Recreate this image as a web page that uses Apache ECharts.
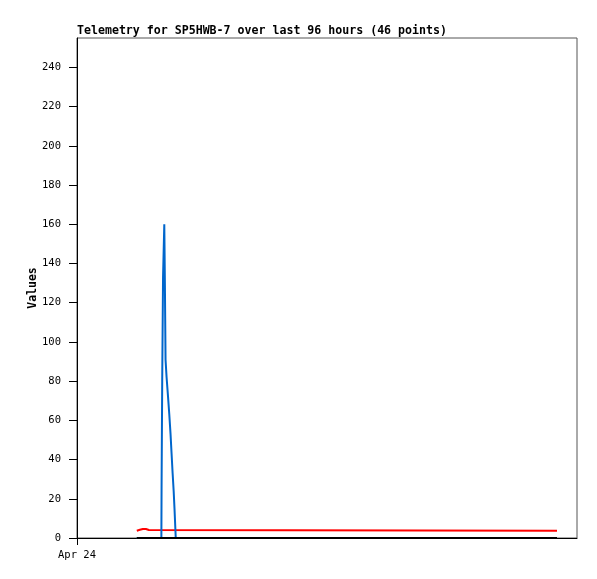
<!DOCTYPE html>
<html><head><meta charset="utf-8">
<script src="https://cdn.jsdelivr.net/npm/echarts@6/dist/echarts.min.js"></script>
<style>html,body{margin:0;padding:0;background:#fff}#c{width:597px;height:579px}</style>
</head><body><div id="c"></div>
<script>
// hours since Apr 24 00:00
const blueHours = [2.87, 4.05, 4.06, 4.09, 4.13, 4.19, 4.22, 4.25, 4.30, 4.37, 4.43, 4.49, 4.54, 4.59, 4.64, 4.68, 4.72, 4.74, 23.04];
const blueValues = [0, 0, 27, 80, 133, 160, 128, 91, 82, 72, 63, 53, 43, 33, 24, 15, 5, 0, 0];
const redHours = [2.87, 3.02, 3.16, 3.31, 3.45, 3.54, 23.04];
const redValues = [3.7, 4.2, 4.6, 4.6, 4.1, 3.7, 3.7];
const blackHours = [2.87, 23.04];
const blackValues = [0, 0];
const yTicks = [0, 20, 40, 60, 80, 100, 120, 140, 160, 180, 200, 220, 240];
const xTickLabels = {0: 'Apr 24'};
const titleText = 'Telemetry for SP5HWB-7 over last 96 hours (46 points)';

const zip = (a, b) => a.map((v, i) => [v, b[i]]);
const font = '"DejaVu Sans Mono", "Liberation Mono", monospace';
const chart = echarts.init(document.getElementById('c'), null, {renderer: 'canvas'});
chart.setOption({
  animation: false,
  backgroundColor: '#fff',
  title: {text: titleText, left: 72, top: 25, textStyle: {fontFamily: font, fontSize: 11.6, fontWeight: 'bold', color: '#000'}, padding: [0,5]},
  grid: {left: 77, top: 38, right: 20, bottom: 41, show: true, borderColor: '#555', borderWidth: 1, containLabel: false},
  xAxis: {
    type: 'value', min: 0, max: 24, interval: 24,
    axisLine: {lineStyle: {color: '#000', width: 1}},
    axisTick: {show: true, length: 7, lineStyle: {color: '#000'}, customValues: [0]},
    axisLabel: {customValues: [0], formatter: v => xTickLabels[v] || '', fontFamily: font, fontSize: 10.5, color: '#000', margin: 12},
    splitLine: {show: false}
  },
  yAxis: {
    type: 'value', min: 0, max: 255,
    name: 'Values', nameLocation: 'middle', nameGap: 38, nameMoveOverlap: false,
    nameTextStyle: {fontFamily: font, fontSize: 11.5, fontWeight: 'bold', color: '#000'},
    axisLine: {show: true, lineStyle: {color: '#000', width: 1}},
    axisTick: {show: true, length: 8, lineStyle: {color: '#000'}, customValues: yTicks},
    axisLabel: {customValues: yTicks, fontFamily: font, fontSize: 10.5, color: '#000', margin: 16},
    splitLine: {show: false}
  },
  series: [
    {type: 'line', data: zip(redHours, redValues), symbol: 'none', lineStyle: {color: '#ff0000', width: 2}, itemStyle: {color: '#ff0000'}},
    {type: 'line', data: zip(blueHours, blueValues), symbol: 'none', lineStyle: {color: '#0066cc', width: 2}, itemStyle: {color: '#0066cc'}},
    {type: 'line', data: zip(blackHours, blackValues), symbol: 'none', lineStyle: {color: '#000', width: 2}, itemStyle: {color: '#000'}}
  ]
});
</script></body></html>
